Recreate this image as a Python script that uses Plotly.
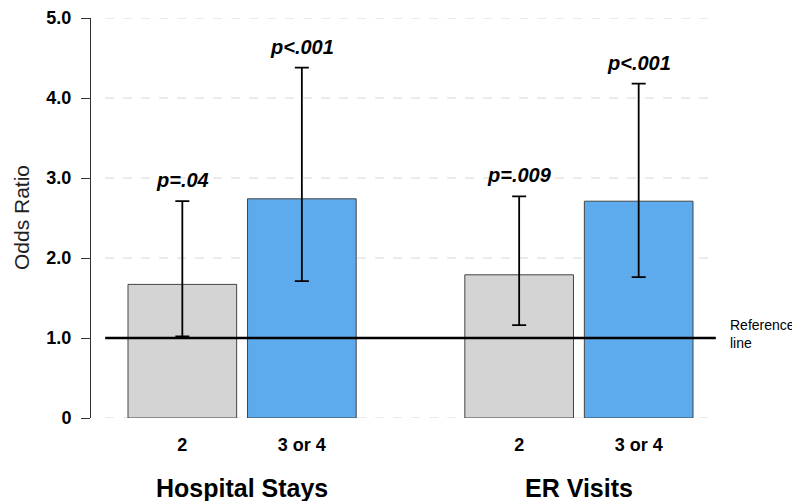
import plotly.graph_objects as go

# ---- data ----
groups = ["Hospital Stays", "ER Visits"]
levels = ["2", "3 or 4"]
odds_2 = [1.67, 1.79]
odds_34 = [2.74, 2.71]
upper_2 = [2.71, 2.77]
lower_2 = [1.02, 1.16]
upper_34 = [4.38, 4.18]
lower_34 = [1.71, 1.76]
pvals_2 = ["p=.04", "p=.009"]
pvals_34 = ["p<.001", "p<.001"]
y_ticks = [0, 1, 2, 3, 4, 5]
y_ticktext = ["0", "1.0", "2.0", "3.0", "4.0", "5.0"]
reference_value = 1.0

# bar layout (R barplot style: width 1, space 0.1 inside group, 1 between groups)
bar_w = 1.0
inner = 0.1
outer = 1.0
x2 = [outer + g * (2 * bar_w + inner + outer) + bar_w / 2 for g in range(len(groups))]
x34 = [x + bar_w + inner for x in x2]

FONT = "Liberation Sans, Arial, sans-serif"
GRAY = "#d4d4d4"
BLUE = "#5dabec"

fig = go.Figure()
fig.add_trace(go.Bar(
    x=x2, y=odds_2, width=bar_w, name=levels[0],
    marker=dict(color=GRAY, line=dict(color="#444444", width=1)),
    error_y=dict(type="data", symmetric=False,
                 array=[u - v for u, v in zip(upper_2, odds_2)],
                 arrayminus=[v - l for v, l in zip(odds_2, lower_2)],
                 color="black", thickness=1.8, width=7),
))
fig.add_trace(go.Bar(
    x=x34, y=odds_34, width=bar_w, name=levels[1],
    marker=dict(color=BLUE, line=dict(color="#444444", width=1)),
    error_y=dict(type="data", symmetric=False,
                 array=[u - v for u, v in zip(upper_34, odds_34)],
                 arrayminus=[v - l for v, l in zip(odds_34, lower_34)],
                 color="black", thickness=1.8, width=7),
))

x_lo, x_hi = 0.6595, 6.476
grid_lo, grid_hi = 0.79, 6.41

shapes = []
for t in y_ticks:
    if t == reference_value:
        continue
    shapes.append(dict(type="line", xref="x", yref="y", x0=grid_lo, x1=grid_hi, y0=t, y1=t,
                       line=dict(color="#d6d6d6", width=1, dash="dash"), layer="below"))
shapes.append(dict(type="line", xref="x", yref="y", x0=grid_lo, x1=grid_hi,
                   y0=reference_value, y1=reference_value,
                   line=dict(color="black", width=2.5), layer="above"))

annotations = []
for xs, ups, ps in [(x2, upper_2, pvals_2), (x34, upper_34, pvals_34)]:
    for x, u, p in zip(xs, ups, ps):
        annotations.append(dict(x=x, y=u, xref="x", yref="y", text="<b><i>%s</i></b>" % p,
                                showarrow=False, yanchor="bottom", yshift=8,
                                font=dict(family=FONT, size=20, color="black")))
for g, name in enumerate(groups):
    annotations.append(dict(x=(x2[g] + x34[g]) / 2, y=0, xref="x", yref="y",
                            text="<b>%s</b>" % name, showarrow=False,
                            yanchor="middle", yshift=-70,
                            font=dict(family=FONT, size=25, color="black")))
annotations.append(dict(x=grid_hi, y=reference_value, xref="x", yref="y",
                        text="Reference<br>line", showarrow=False, align="left",
                        xanchor="left", yanchor="middle", xshift=12, yshift=4,
                        font=dict(family=FONT, size=14, color="black")))
annotations.append(dict(x=0, y=0.5, xref="paper", yref="paper", text="Odds Ratio",
                        showarrow=False, textangle=-90, xanchor="center", yanchor="middle",
                        xshift=-70, font=dict(family=FONT, size=21, color="#222222")))

fig.update_layout(
    width=792, height=493, autosize=False,
    margin=dict(l=83, r=77, t=10, b=83, autoexpand=False),
    plot_bgcolor="white", paper_bgcolor="white",
    showlegend=False, barmode="overlay",
    shapes=shapes, annotations=annotations,
    font=dict(family=FONT, color="black"),
)
fig.update_xaxes(range=[x_lo, x_hi], tickvals=x2 + x34,
                 ticktext=[levels[0]] * len(groups) + [levels[1]] * len(groups),
                 tickfont=dict(family=FONT, size=18, color="black", weight="bold"),
                 showline=False, showgrid=False, zeroline=False, ticks="",
                 ticklabelstandoff=14, automargin=False)
fig.update_yaxes(range=[0, 5], tickvals=y_ticks, ticktext=y_ticktext,
                 tickfont=dict(family=FONT, size=18, color="black", weight="bold"),
                 showline=True, linecolor="#333333", linewidth=1,
                 ticks="outside", ticklen=9, tickcolor="#333333", tickwidth=1,
                 showgrid=False, zeroline=False, ticklabelstandoff=6,
                 ticklabeloverflow="allow", automargin=False)

fig.write_html("out.html")
